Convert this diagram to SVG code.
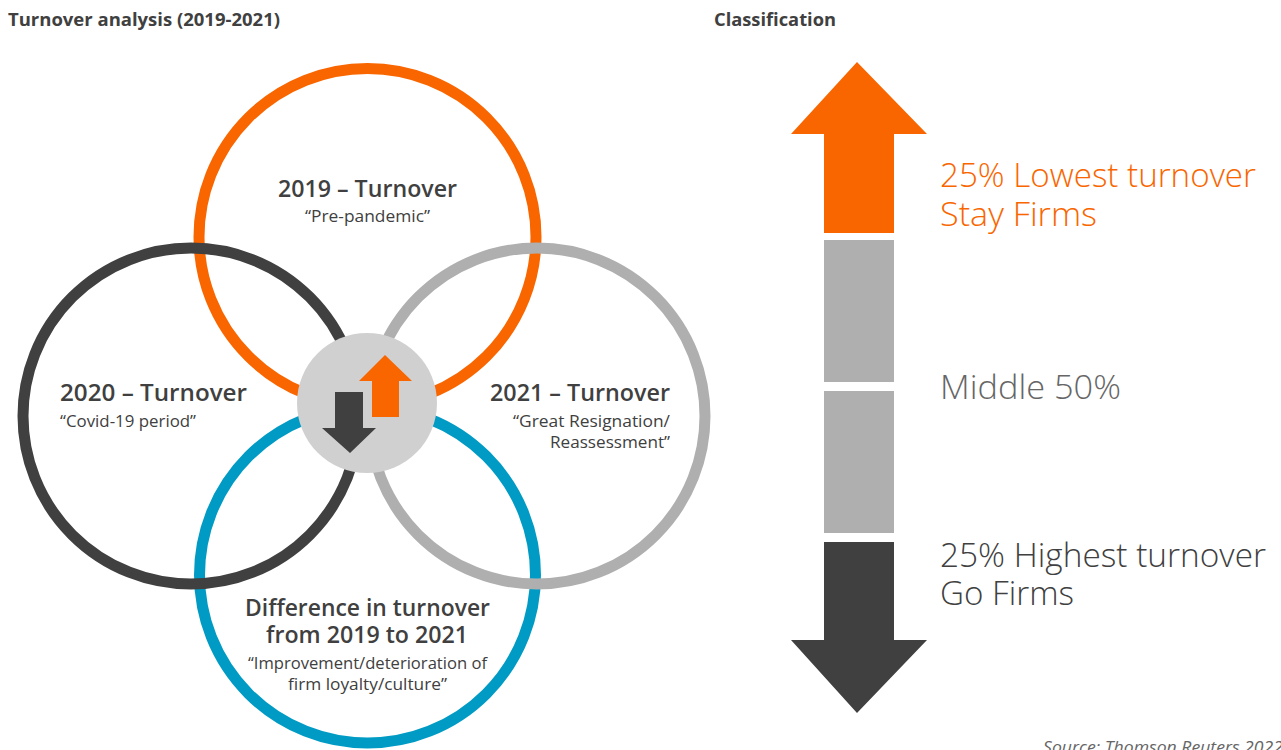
<svg xmlns="http://www.w3.org/2000/svg" width="1281" height="750" viewBox="0 0 1281 750">
<style>
.ring{fill:none;stroke-width:11}
.hd{font-family:"Open Sans","Noto Sans",sans-serif;font-weight:700;font-size:17px;fill:#404040}
.t1{font-family:"Open Sans","Noto Sans",sans-serif;font-weight:600;font-size:23px;fill:#404040}
.t2{font-family:"Open Sans","Noto Sans",sans-serif;font-weight:400;font-size:16.5px;fill:#404040}
.big{font-family:"Open Sans","Noto Sans",sans-serif;font-weight:300;font-size:33px}
</style>
<rect width="1281" height="750" fill="#ffffff"/>
<text class="hd" x="8" y="26" textLength="272" lengthAdjust="spacingAndGlyphs">Turnover analysis (2019-2021)</text>
<text class="hd" x="714" y="26" textLength="122" lengthAdjust="spacingAndGlyphs">Classification</text>
<g id="connectors">
</g>
<g id="node-2019"><circle class="ring" cx="367.5" cy="237" r="168.5" stroke="#f96600"/></g>
<g id="node-diff"><circle class="ring" cx="367.5" cy="575" r="168" stroke="#009bc4"/></g>
<g id="node-2020"><circle class="ring" cx="191" cy="416" r="168" stroke="#404040"/></g>
<g id="node-2021"><circle class="ring" cx="537" cy="416" r="168" stroke="#afafaf"/></g>
<g id="center-icon">
<circle cx="367" cy="403" r="70" fill="#d0d0d0"/>
<polygon points="385,355 412,381 399,381 399,417 372,417 372,381 359,381" fill="#f96600"/>
<polygon points="335,392 363,392 363,428 376,428 350,453 322,428 335,428" fill="#404040"/>
</g>
<g id="labels">
<text class="t1" x="278" y="197" textLength="179" lengthAdjust="spacingAndGlyphs">2019 – Turnover</text>
<text class="t2" x="305" y="222" textLength="125" lengthAdjust="spacingAndGlyphs">“Pre-pandemic”</text>
<text class="t1" x="60" y="401" textLength="187" lengthAdjust="spacingAndGlyphs">2020 – Turnover</text>
<text class="t2" x="60" y="427" textLength="136" lengthAdjust="spacingAndGlyphs">“Covid-19 period”</text>
<text class="t1" x="490" y="401" textLength="180" lengthAdjust="spacingAndGlyphs">2021 – Turnover</text>
<text class="t2" x="513" y="427" textLength="157" lengthAdjust="spacingAndGlyphs">“Great Resignation/</text>
<text class="t2" x="550" y="448" textLength="120" lengthAdjust="spacingAndGlyphs">Reassessment”</text>
<text class="t1" x="245" y="616" textLength="245" lengthAdjust="spacingAndGlyphs">Difference in turnover</text>
<text class="t1" x="266" y="643" textLength="202" lengthAdjust="spacingAndGlyphs">from 2019 to 2021</text>
<text class="t2" x="248" y="669" textLength="239" lengthAdjust="spacingAndGlyphs">“Improvement/deterioration of</text>
<text class="t2" x="288" y="690" textLength="159" lengthAdjust="spacingAndGlyphs">firm loyalty/culture”</text>
</g>
<g id="scale">
<polygon points="857,62 927,134 894,134 894,233 824,233 824,134 791,134" fill="#f96600"/>
<rect x="824" y="240" width="70" height="142" fill="#afafaf"/>
<rect x="824" y="391" width="70" height="142" fill="#afafaf"/>
<polygon points="824,542 894,542 894,640 927,640 857,713 791,640 824,640" fill="#404040"/>
</g>
<g id="scale-labels">
<text class="big" x="940" y="187" fill="#f96600" textLength="316" lengthAdjust="spacingAndGlyphs">25% Lowest turnover</text>
<text class="big" x="940" y="226" fill="#f96600" textLength="157" lengthAdjust="spacingAndGlyphs">Stay Firms</text>
<text class="big" x="940" y="399" fill="#666666" textLength="181" lengthAdjust="spacingAndGlyphs">Middle 50%</text>
<text class="big" x="940" y="567" fill="#404040" textLength="326" lengthAdjust="spacingAndGlyphs">25% Highest turnover</text>
<text class="big" x="940" y="605" fill="#404040" textLength="134" lengthAdjust="spacingAndGlyphs">Go Firms</text>
</g>
<text x="1043" y="753" font-family="Open Sans,Noto Sans,sans-serif" font-style="italic" font-size="16.5" fill="#666666" textLength="240" lengthAdjust="spacingAndGlyphs">Source: Thomson Reuters 2022</text>
</svg>
